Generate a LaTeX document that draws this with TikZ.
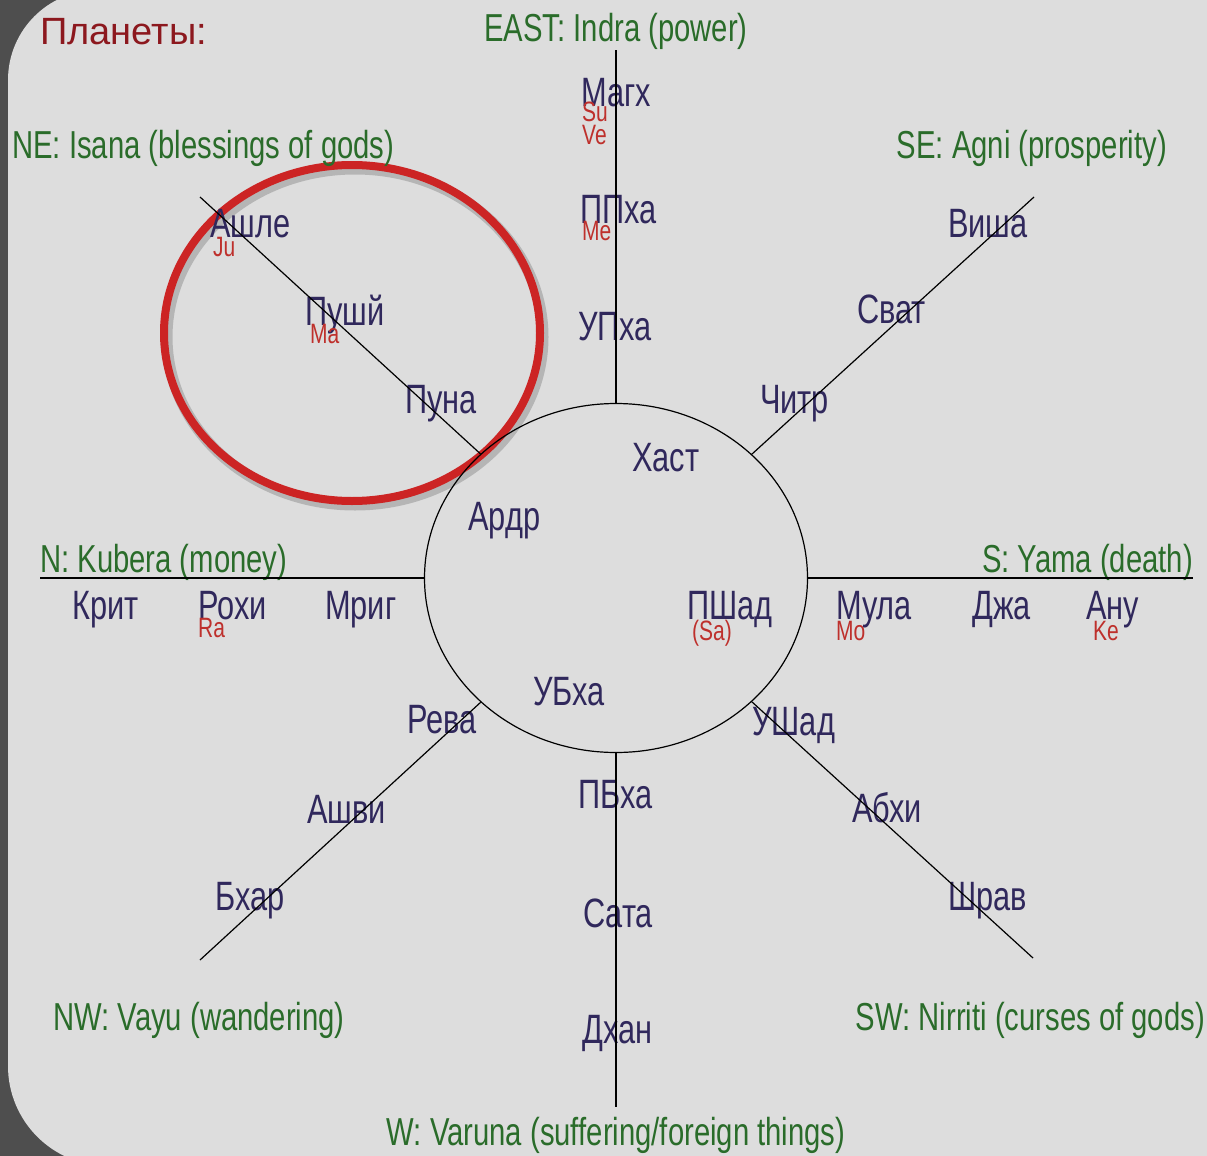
\documentclass[tikz,border=0pt]{standalone}
\usepackage{fontspec}
\setmainfont{Liberation Sans}
\newfontfamily\narrowfont[FakeStretch=0.75]{Liberation Sans}
\usepackage{xcolor}
\usetikzlibrary{shapes.geometric}

\definecolor{bgdark}{RGB}{78,78,78}
\definecolor{panelgray}{RGB}{221,221,221}
\definecolor{naknavy}{RGB}{48,40,92}
\definecolor{dirgreen}{RGB}{42,108,42}
\definecolor{planetred}{RGB}{190,48,44}
\definecolor{titlered}{RGB}{140,24,30}
\definecolor{ringred}{RGB}{204,36,36}

\begin{document}
\begin{tikzpicture}[
    x=1pt, y=-1pt,
    nak/.style={anchor=base west, inner sep=0pt, text=naknavy, font=\narrowfont\fontsize{41}{44}\selectfont},
    quarter/.style={anchor=base west, inner sep=0pt, text=dirgreen, font=\narrowfont\fontsize{39}{42}\selectfont},
    planet/.style={anchor=base west, inner sep=0pt, text=planetred, font=\narrowfont\fontsize{28}{30}\selectfont},
    spoke/.style={line width=1.2pt, black},
    ring/.style={draw=ringred, ellipse, inner sep=0pt, minimum width=376pt, minimum height=336pt, line width=8pt}
]
\useasboundingbox (0,0) rectangle (1207,1156);
\clip (0,0) rectangle (1207,1156);

% backdrop and panel
\fill[bgdark] (0,0) rectangle (1207,1156);
\fill[panelgray, rounded corners=90pt] (8,-10) rectangle (1400,700);
\fill[panelgray, rounded corners=100pt] (8,400) rectangle (1400,1166);

% highlight ring
\node[ring, draw=black, draw opacity=0.18, line width=11pt] (focusshade) at (355,337) {};
\node[ring] (focus) at (352,333) {};

% centre circle
\node[draw, ellipse, minimum width=383pt, minimum height=349pt, inner sep=0pt, line width=1.2pt] (hub) at (616,578) {};

\node[anchor=base west, inner sep=0pt, text=titlered, font=\fontsize{38}{40}\selectfont] (title) at (40,45) {Планеты:};

% directions
\node[quarter, anchor=base] (east) at (616,42) {EAST: Indra (power)};
\node[quarter] (ne) at (12,158) {NE: Isana (blessings of gods)};
\node[quarter, anchor=base east] (se) at (1167,158) {SE: Agni (prosperity)};
\node[quarter] (north) at (40,572) {N: Kubera (money)};
\node[quarter, anchor=base east] (south) at (1193,572) {S: Yama (death)};
\node[quarter] (nw) at (53,1030) {NW: Vayu (wandering)};
\node[quarter, anchor=base east] (sw) at (1205,1030) {SW: Nirriti (curses of gods)};
\node[quarter, anchor=base] (west) at (616,1145) {W: Varuna (suffering/foreign things)};

% nakshatras
\node[nak] (magh) at (581,106) {Магх};
\node[nak] (pph) at (580,223) {ППха};
\node[nak] (uph) at (578,340) {УПха};
\node[nak] (hast) at (632,471) {Хаст};
\node[nak] (ardr) at (468,530) {Ардр};
\node[nak] (pshad) at (687,619) {ПШад};
\node[nak] (ubha) at (533,705) {УБха};
\node[nak] (pbha) at (578,808) {ПБха};
\node[nak] (sata) at (583,927) {Сата};
\node[nak] (dhan) at (582,1043) {Дхан};
\node[nak] (krit) at (72,619) {Крит};
\node[nak] (rohi) at (198,619) {Рохи};
\node[nak] (mrig) at (325,619) {Мриг};
\node[nak] (mula) at (836,619) {Мула};
\node[nak] (dzha) at (972,619) {Джа};
\node[nak] (anu) at (1086,619) {Ану};
\node[nak] (ashle) at (210,237) {Ашле};
\node[nak] (pushy) at (305,325) {Пушй};
\node[nak] (puna) at (405,413) {Пуна};
\node[nak] (visha) at (948,237) {Виша};
\node[nak] (svat) at (857,323) {Сват};
\node[nak] (chitr) at (760,413) {Читр};
\node[nak] (reva) at (407,733) {Рева};
\node[nak] (ashvi) at (307,823) {Ашви};
\node[nak] (bhar) at (215,910) {Бхар};
\node[nak] (ushad) at (752,735) {УШад};
\node[nak] (abhi) at (852,822) {Абхи};
\node[nak] (shrav) at (948,910) {Шрав};

% planets
\node[planet] (su) at (582,121) {Su};
\node[planet] (ve) at (582,144) {Ve};
\node[planet] (me) at (582,240) {Me};
\node[planet] (ju) at (213,256) {Ju};
\node[planet] (ma) at (310,343) {Ma};
\node[planet] (ra) at (198,637) {Ra};
\node[planet] (sa) at (692,640) {(Sa)};
\node[planet] (mo) at (836,640) {Mo};
\node[planet] (ke) at (1093,640) {Ke};

% spokes
\coordinate (eastend) at (616,50);
\coordinate (westend) at (616,1107);
\coordinate (northend) at (40,578);
\coordinate (southend) at (1193,578);
\coordinate (neend) at (200,197);
\coordinate (seend) at (1034,197);
\coordinate (nwend) at (200,960);
\coordinate (swend) at (1033,958);
\draw[spoke] (hub) -- (eastend);
\draw[spoke] (hub) -- (westend);
\draw[spoke] (hub) -- (northend);
\draw[spoke] (hub) -- (southend);
\draw[spoke] (hub) -- (neend);
\draw[spoke] (hub) -- (seend);
\draw[spoke] (hub) -- (nwend);
\draw[spoke] (hub) -- (swend);
\end{tikzpicture}
\end{document}
